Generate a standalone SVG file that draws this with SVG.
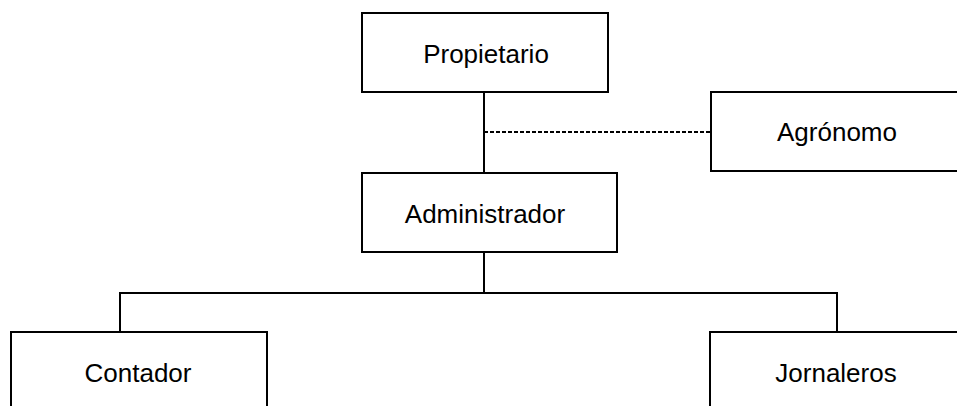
<svg xmlns="http://www.w3.org/2000/svg" width="957" height="406" viewBox="0 0 957 406">
<style>
.box{fill:#fff;stroke:#000;stroke-width:2}
.t{font-family:"Liberation Sans",Arial,sans-serif;font-size:26px;fill:#000;text-anchor:middle}
.ln{stroke:#000;stroke-width:2;fill:none}
.dash{stroke:#000;stroke-width:2;fill:none;stroke-dasharray:4 2}
</style>
<rect width="957" height="406" fill="#fff"/>
<g id="connectors">
<line class="ln" x1="484" y1="92" x2="484" y2="173"/>
<line class="dash" x1="484" y1="132" x2="711" y2="132"/>
<line class="ln" x1="484" y1="252" x2="484" y2="293"/>
<polyline class="ln" points="120,332 120,293 837,293 837,332"/>
</g>
<g id="propietario">
<rect class="box" x="362" y="13" width="246" height="79"/>
<text class="t" x="486" y="63">Propietario</text>
</g>
<g id="agronomo">
<rect class="box" x="711" y="92" width="260" height="79"/>
<text class="t" x="837" y="141">Agrónomo</text>
</g>
<g id="administrador">
<rect class="box" x="362" y="173" width="255" height="79"/>
<text class="t" x="485" y="223">Administrador</text>
</g>
<g id="contador">
<rect class="box" x="11" y="332" width="256" height="100"/>
<text class="t" x="138" y="382">Contador</text>
</g>
<g id="jornaleros">
<rect class="box" x="710" y="332" width="260" height="100"/>
<text class="t" x="836" y="382">Jornaleros</text>
</g>
</svg>
